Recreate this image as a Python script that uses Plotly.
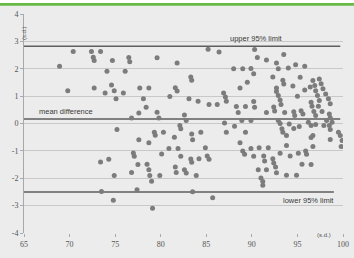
import plotly.graph_objects as go

# Bland-Altman style data (x: score, y: difference in s.d.)
x_vals = [
    68.9, 69.8, 70.4, 72.4, 72.6, 72.7, 73.4, 74.7, 74.1, 72.7, 73.9, 74.6, 74.9, 75.1, 75.9, 76.1,
    76.5, 76.6, 75.2, 73.4, 74.3, 74.9, 73.5, 74.8, 76.8, 76.8,
    79.6, 81.8, 83.3, 83.4, 77.7, 78.7, 81.6, 81.8, 81.0, 83.1, 84.1, 78.1, 78.4, 77.6, 79.6, 79.8,
    82.6, 82.8, 82.1, 82.2, 79.3, 79.4, 80.3, 83.4, 83.5, 77.6, 78.7, 81.5, 80.9, 81.9, 80.1, 77.0,
    77.1, 82.2, 83.3, 83.4, 84.2, 77.5, 78.5, 81.6, 78.7, 81.7, 82.6, 82.8, 78.8, 79.9, 79.0, 83.9,
    77.4, 83.5, 79.1,
    85.2, 86.4, 90.3, 90.6, 88.0, 89.0, 89.9, 90.2, 89.5, 88.7, 86.9, 87.1, 87.2, 85.3, 86.2, 88.3,
    88.5, 89.3, 90.2, 90.3, 88.9, 89.9, 87.0, 88.1, 87.2, 84.4, 89.3, 88.7, 89.0, 89.2, 89.9, 90.8,
    84.9, 85.1, 85.3, 90.2, 90.7, 85.7,
    93.5, 91.6, 92.7, 92.9, 94.0, 94.8, 95.8, 92.3, 93.4, 93.5, 95.3, 94.5, 92.7, 92.7, 95.8, 92.9,
    93.1, 93.2, 95.0, 91.6, 93.6, 94.6, 94.7, 95.4, 95.6, 92.9, 93.1, 93.3, 93.4, 94.1, 94.6, 93.8,
    95.2, 92.4, 92.5, 91.8, 93.1, 94.2, 95.1, 95.9, 96.0, 91.3, 91.4, 92.3, 92.4, 92.6, 95.5, 91.6,
    92.7, 93.8, 94.9, 91.0, 91.2, 91.2, 93.8,
    96.7, 96.9, 97.0, 97.2, 97.4, 97.4, 97.6, 97.8, 98.1, 98.4, 98.6, 96.4, 96.5, 96.6, 97.3, 96.8,
    97.0, 97.7, 98.5, 98.6, 98.8, 96.5, 98.2, 98.5, 98.6, 99.5, 99.7, 99.9, 96.7, 96.5, 96.7, 98.6,
    99.8, 96.5, 96.2, 97.0, 97.9,
]
y_vals = [
    2.09, 1.20, 2.63, 2.63, 2.42, 2.30, 2.63, 2.30, 1.91, 1.30, 1.11, 1.41, 1.20, 0.90, 1.11, 1.91,
    2.41, 2.26, -0.22, -1.41, -1.31, -1.90, -2.48, -2.80, 0.20, -1.79,
    2.40, 2.21, 1.70, 1.58, 1.30, 1.30, 1.31, 1.19, 0.99, 0.90, 0.81, 0.90, 0.59, 0.38, 0.41, 0.20,
    0.31, 0.11, -0.07, -0.19, -0.32, -0.43, -0.32, -0.38, -0.59, -0.59, -0.70, -0.50, -0.91, -0.91, -1.11, -1.08,
    -1.20, -1.20, -1.30, -1.42, -1.29, -1.50, -1.49, -1.59, -1.69, -1.79, -1.69, -1.81, -1.90, -1.90, -2.11, -1.90,
    -2.42, -2.49, -3.10,
    2.71, 2.61, 2.70, 2.41, 2.00, 2.00, 2.01, 1.82, 1.51, 1.30, 1.11, 0.97, 0.81, 0.69, 0.69, 0.62,
    0.40, 0.62, 0.80, 0.59, 0.11, 0.11, 0.02, -0.10, -0.32, -0.32, -0.32, -0.70, -1.00, -1.12, -0.91, -0.89,
    -0.89, -1.19, -1.31, -1.20, -1.69, -2.71,
    2.52, 2.32, 2.21, 2.00, 2.03, 2.15, 2.09, 1.70, 1.58, 1.44, 1.69, 1.37, 1.30, 1.17, 1.22, 1.02,
    0.86, 0.69, 1.00, 0.40, 0.40, 0.43, 0.29, 0.47, 0.35, 0.11, 0.00, -0.19, -0.32, -0.02, -0.18, -0.44,
    -0.11, 0.60, 0.46, -0.89, -1.09, -1.19, -1.09, -1.00, -1.12, -1.19, -1.37, -1.29, -1.44, -1.59, -1.49, -1.69,
    -1.80, -1.89, -1.89, -1.99, -2.12, -2.26, -0.80,
    1.57, 1.39, 1.20, 1.02, 0.84, 1.63, 1.45, 1.27, 1.08, 0.90, 0.72, 1.33, 0.78, 0.63, 0.63, 0.44,
    0.29, 0.44, 0.35, 0.21, 0.05, -0.07, 0.11, -0.07, -0.22, -0.32, -0.44, -0.62, -0.44, -0.51, -0.84, -0.58,
    -0.84, -1.50, 0.05, -0.04, -0.07,
]

x_ticks = [65, 70, 75, 80, 85, 90, 95, 100]
y_ticks = [-4, -3, -2, -1, 0, 1, 2, 3, 4]

upper_limit = 2.82
mean_diff = 0.16
lower_limit = -2.5

BG = "#ececec"
GRID = "#c8c8c8"
DARK = "#5e5e5e"

fig = go.Figure()
fig.add_trace(go.Scatter(
    x=x_vals, y=y_vals, mode="markers", cliponaxis=True,
    marker=dict(symbol="circle", size=5, color="#7c7c7c"),
    hoverinfo="skip", showlegend=False,
))

# reference lines
fig.add_shape(type="line", xref="x", yref="y", x0=65, x1=99.7, y0=upper_limit, y1=upper_limit,
              line=dict(color=DARK, width=1.5), layer="below")
fig.add_shape(type="line", xref="x", yref="y", x0=65, x1=99.7, y0=mean_diff, y1=mean_diff,
              line=dict(color=DARK, width=1.5), layer="below")
fig.add_shape(type="line", xref="x", yref="y", x0=65, x1=99.0, y0=lower_limit, y1=lower_limit,
              line=dict(color=DARK, width=1.5), layer="below")

# top white strip and green rule (in the top margin)
fig.add_shape(type="rect", xref="paper", yref="paper", x0=-0.08, x1=1.04, y0=1.05, y1=1.07,
              fillcolor="white", line=dict(width=0), layer="above")
fig.add_shape(type="rect", xref="paper", yref="paper", x0=-0.08, x1=1.04, y0=1.038, y1=1.05,
              fillcolor="#66bb44", line=dict(width=0), layer="above")

ann_font = dict(family="Liberation Sans, Arial, sans-serif", size=7.5, color="#3a3a3a")
fig.add_annotation(x=90.5, y=upper_limit, text="upper 95% limit", showarrow=False,
                   yshift=8, font=ann_font)
fig.add_annotation(x=69.6, y=mean_diff, text="mean difference", showarrow=False,
                   yshift=8, font=ann_font)
fig.add_annotation(x=96.2, y=lower_limit, text="lower 95% limit", showarrow=False,
                   yshift=-9, font=ann_font)
fig.add_annotation(xref="paper", yref="paper", x=-0.015, y=0.955, text="(s.d.)", textangle=-90,
                   showarrow=False, font=dict(family="Liberation Sans, Arial", size=6, color="#555555"))
fig.add_annotation(xref="x", yref="paper", x=97.9, y=-0.03, text="(s.d.)", showarrow=False,
                   font=dict(family="Liberation Sans, Arial", size=6, color="#555555"))

tick_font = dict(family="Liberation Serif, Times New Roman, serif", size=8, color="#555555")
fig.update_xaxes(range=[65, 100], tickvals=x_ticks, ticktext=[str(v) for v in x_ticks],
                 showgrid=False, zeroline=False, showline=False, automargin=False,
                 ticks="outside", ticklen=3, tickcolor="#aaaaaa", tickfont=tick_font)
fig.update_yaxes(range=[-4, 4], tickvals=y_ticks, ticktext=[str(v) for v in y_ticks],
                 showgrid=True, gridcolor=GRID, gridwidth=1, zeroline=False, automargin=False,
                 showline=True, linecolor="#a8a8a8", linewidth=1,
                 ticks="outside", ticklen=3, tickcolor="#aaaaaa", tickfont=tick_font)

fig.update_layout(
    width=354, height=258,
    margin=dict(l=24, r=11, t=14, b=25, autoexpand=False),
    paper_bgcolor=BG, plot_bgcolor=BG,
    showlegend=False,
)

fig.write_html("out.html", config={"displayModeBar": False, "staticPlot": True},
               post_script="document.body.style.margin='0px';")
